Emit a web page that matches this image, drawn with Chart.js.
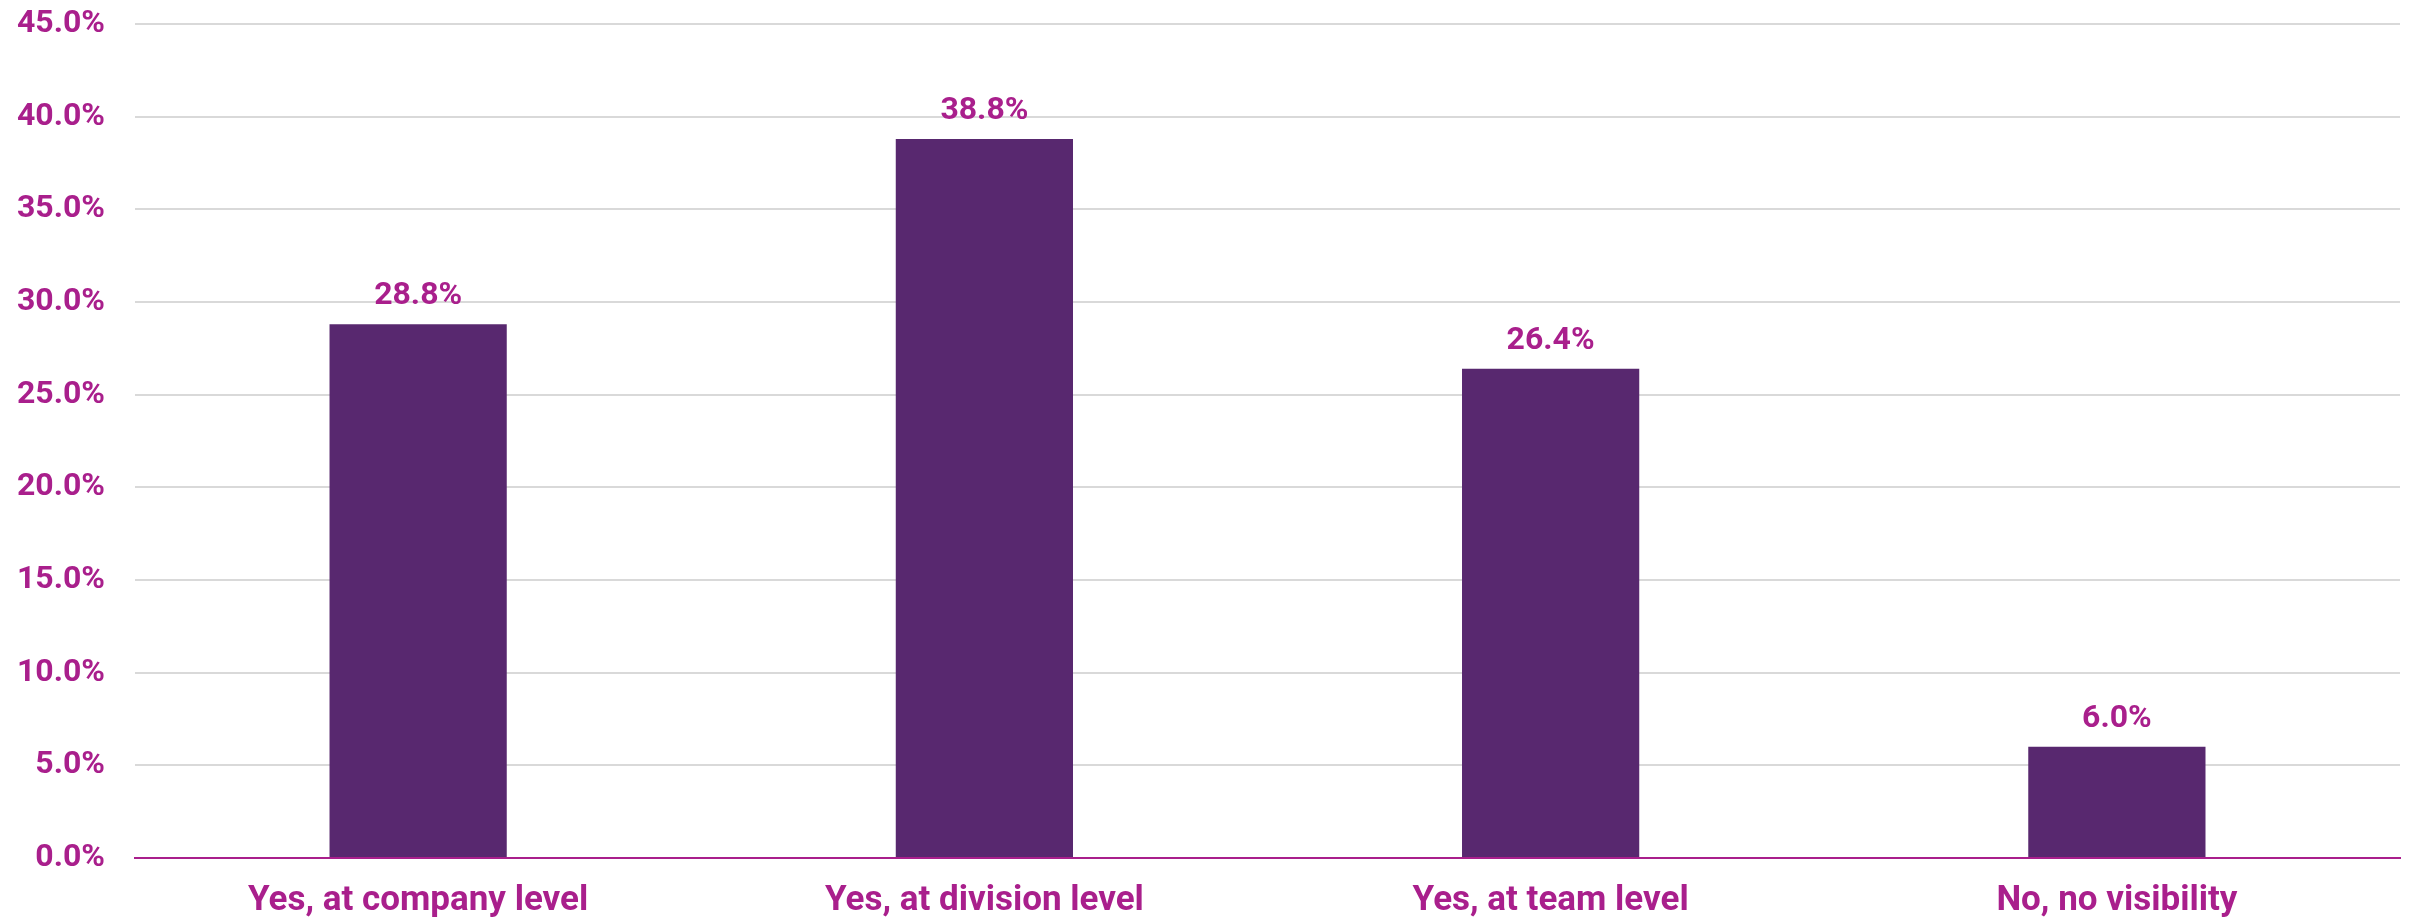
<!DOCTYPE html>
<html>
<head>
<meta charset="utf-8">
<script src="https://cdn.jsdelivr.net/npm/chart.js@4.4.0/dist/chart.umd.min.js"></script>
<style>
  html, body { margin: 0; padding: 0; background: #fff; }
  #wrap { width: 2415px; height: 918px; }
</style>
</head>
<body>
<div id="wrap"><canvas id="barChart"></canvas></div>
<script>
const categories = ["Yes, at company level", "Yes, at division level", "Yes, at team level", "No, no visibility"];
const shares = [28.8, 38.8, 26.4, 6.0];
const yTicks = [0, 5, 10, 15, 20, 25, 30, 35, 40, 45];

const magenta = "#a91f8c";
const purple = "#58286f";
const gridGray = "#d9d9d9";
const fontFamily = "Roboto, 'Liberation Sans', Arial, sans-serif";

// labels on top of each bar
const valueLabels = {
  id: "valueLabels",
  afterDatasetsDraw(chart) {
    const ctx = chart.ctx;
    const meta = chart.getDatasetMeta(0);
    ctx.save();
    ctx.font = "bold 32px " + fontFamily;
    ctx.fillStyle = magenta;
    ctx.textAlign = "center";
    ctx.textBaseline = "alphabetic";
    meta.data.forEach((bar, i) => {
      ctx.fillText(shares[i].toFixed(1) + "%", bar.x, bar.y - 20);
    });
    ctx.restore();
  }
};

const ctx = document.getElementById("barChart").getContext("2d");
window.barChart = new Chart(ctx, {
  type: "bar",
  data: {
    labels: categories,
    datasets: [{
      data: shares,
      backgroundColor: purple,
      borderWidth: 0,
      categoryPercentage: 1,
      barPercentage: 0.313
    }]
  },
  options: {
    responsive: true,
    maintainAspectRatio: false,
    animation: false,
    layout: { padding: { top: 24, right: 15, left: 17, bottom: -4 } },
    plugins: {
      legend: { display: false },
      tooltip: { enabled: false }
    },
    scales: {
      x: {
        // invisible tick marks give the gap instead of ticks.padding
        grid: { display: false, drawTicks: true, tickLength: 22, tickColor: "rgba(0,0,0,0)" },
        border: { display: true, color: magenta, width: 2 },
        ticks: {
          color: magenta,
          padding: 0,
          font: { family: fontFamily, size: 35, weight: "bold" }
        }
      },
      y: {
        min: 0,
        max: 45,
        afterBuildTicks(axis) {
          axis.ticks = yTicks.map(v => ({ value: v }));
        },
        grid: {
          drawTicks: true,
          tickLength: 30,
          tickColor: "rgba(0,0,0,0)",
          lineWidth: 2,
          color: c => (c.tick && c.tick.value === 0 ? magenta : gridGray)
        },
        border: { display: false },
        ticks: {
          color: magenta,
          padding: 0,
          font: { family: fontFamily, size: 32, weight: "bold" },
          callback: v => Number(v).toFixed(1) + "%"
        }
      }
    }
  },
  plugins: [valueLabels]
});
</script>
</body>
</html>
